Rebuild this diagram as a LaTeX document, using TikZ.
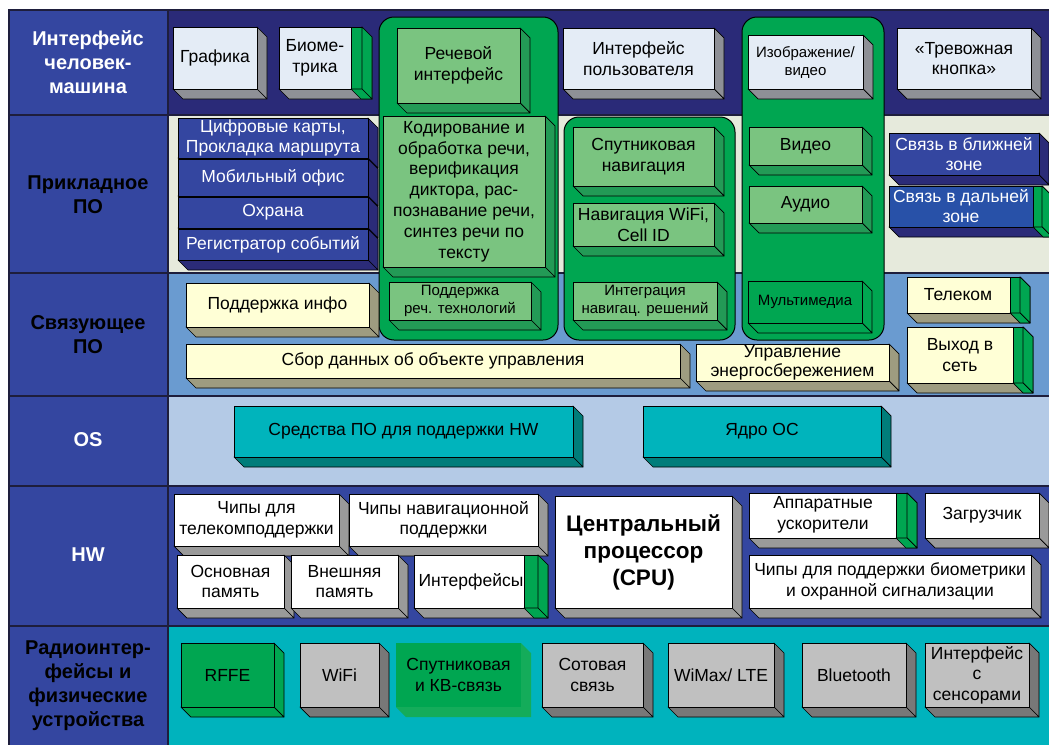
\documentclass[tikz,border=0pt]{standalone}
\usepackage{fontspec}
\setmainfont{Liberation Sans}
\definecolor{colblue}{HTML}{3446A0}
\definecolor{rowA}{HTML}{2A2A78}
\definecolor{rowB}{HTML}{E6EADC}
\definecolor{rowC}{HTML}{6A9BD0}
\definecolor{rowD}{HTML}{B4CAE6}
\definecolor{rowE}{HTML}{3446A0}
\definecolor{rowF}{HTML}{00B3BD}
\definecolor{grn}{HTML}{00A651}
\definecolor{grnl}{HTML}{14AC5A}
\definecolor{lgrn}{HTML}{7AC480}
\definecolor{dgrn}{HTML}{239A56}
\definecolor{pale}{HTML}{E4ECF6}
\definecolor{paleside}{HTML}{8E9096}
\definecolor{navyf}{HTML}{3446A0}
\definecolor{navys}{HTML}{2B2B78}
\definecolor{navyb}{HTML}{2851A8}
\definecolor{cream}{HTML}{FFFFD6}
\definecolor{creams}{HTML}{9E9C80}
\definecolor{tealf}{HTML}{00B4BC}
\definecolor{teals}{HTML}{007D7A}
\definecolor{hwside}{HTML}{9A9A9A}
\definecolor{rgray}{HTML}{C0C0C0}
\definecolor{rgrays}{HTML}{787878}
\definecolor{edge}{HTML}{1E1E3C}
\def\dpth{10}
% #1 node options, #2 name, #3 x1, #4 y1, #5 x2, #6 y2, #7 front, #8 side, #9 text
\newcommand\mycube[9][]{%
 \path[face,fill=#8] (#5,#4) -- (#5+\dpth,#4+\dpth) -- (#5+\dpth,#6+\dpth) -- (#5,#6) -- cycle;
 \path[face,fill=#8] (#3,#6) -- (#5,#6) -- (#5+\dpth,#6+\dpth) -- (#3+\dpth,#6+\dpth) -- cycle;
 \node[face,fill=#7,txt,minimum width=#5-#3,minimum height=#6-#4,#1] (#2) at ({(#3+#5)/2},{(#4+#6)/2}) {#9};}
% #1 x2, #2 y1, #3 y2, #4 stripe width
\newcommand\mystripe[4]{%
 \path[face,fill=grn] (#1-#4,#2) rectangle (#1,#3);
 \path[face,fill=grn] (#1,#2) -- (#1+\dpth,#2+\dpth) -- (#1+\dpth,#3+\dpth) -- (#1,#3) -- cycle;
 \path[face,fill=grn] (#1-#4,#3) -- (#1,#3) -- (#1+\dpth,#3+\dpth) -- (#1-#4+\dpth,#3+\dpth) -- cycle;}
\begin{document}
\begin{tikzpicture}[x=1pt,y=-1pt,
  face/.style={draw=black,line width=0.7pt,line join=round,inner sep=0pt,outer sep=0pt},
  txt/.style={align=center,text=black,font=\fontsize{17.5}{20.5}\selectfont},
  small/.style={font=\fontsize{15}{18}\selectfont},
  lbl/.style={align=center,font=\bfseries\fontsize{20}{24}\selectfont},
  sep/.style={draw=edge,line width=1.2pt},
  cont/.style={draw=black,fill=grn,line width=1pt,rounded corners=15}]
\useasboundingbox (0,0) rectangle (1049,744);
\fill[white] (0,0) rectangle (1049,744);
% rows
\path[sep,fill=rowA] (168,10) rectangle (1053,115);
\path[sep,fill=rowB] (168,115) rectangle (1053,273);
\path[sep,fill=rowC] (168,273) rectangle (1053,396);
\path[sep,fill=rowD] (168,396) rectangle (1053,486);
\path[sep,fill=rowE] (168,486) rectangle (1053,626);
\path[sep,fill=rowF] (168,626) rectangle (1053,750);
% left column
\path[sep,fill=colblue] (9,10) rectangle (168,115);
\path[sep,fill=colblue] (9,115) rectangle (168,273);
\path[sep,fill=colblue] (9,273) rectangle (168,396);
\path[sep,fill=colblue] (9,396) rectangle (168,486);
\path[sep,fill=colblue] (9,486) rectangle (168,626);
\path[sep,fill=colblue] (9,626) rectangle (168,750);
\node[lbl,text=white] (L1) at (88,62) {Интерфейс\\человек-\\машина};
\node[lbl,text=black] (L2) at (88,195) {Прикладное\\ПО};
\node[lbl,text=black] (L3) at (88,335) {Связующее\\ПО};
\node[lbl,text=white] (L4) at (88,440) {OS};
\node[lbl,text=white] (L5) at (88,555) {HW};
\node[lbl,text=black] (L6) at (88,686) {Радиоинтер-\\фейсы и\\физические\\устройства};
% green containers
\path[cont] (379,17) rectangle (558,340);
\path[cont] (564,117) rectangle (735,340);
\path[cont] (742,17) rectangle (884,340);
% row 1
\mycube{graf}{173}{27}{257}{89}{pale}{paleside}{Графика}
\mycube{bio}{279}{27}{362}{89}{pale}{paleside}{}
\mystripe{362}{27}{89}{11}
\node[txt] (biot) at (315,58) {Биоме-\\трика};
\mycube{rech}{397}{28}{520}{103}{lgrn}{dgrn}{Речевой\\интерфейс}
\mycube{ui}{563}{28}{714}{89}{pale}{paleside}{Интерфейс\\пользователя}
\mycube[small]{img}{748}{35}{863}{89}{pale}{paleside}{Изображение/\\видео}
\mycube{alarm}{897}{28}{1031}{89}{pale}{paleside}{«Тревожная\\кнопка»}
% row 2
\mycube[text=white]{maps}{178}{118}{368}{158}{navyf}{navys}{Цифровые карты,\\Прокладка маршрута}
\mycube[text=white]{office}{178}{159}{368}{196}{navyf}{navys}{Мобильный офис}
\mycube[text=white]{guard}{178}{197}{368}{228}{navyf}{navys}{Охрана}
\mycube[text=white]{log}{178}{229}{368}{260}{navyf}{navys}{Регистратор событий}
\mycube[font=\fontsize{17.5}{20.8}\selectfont]{code}{383}{116}{545}{267}{lgrn}{dgrn}{Кодирование и\\обработка речи,\\верификация\\диктора, рас-\\познавание речи,\\синтез речи по\\тексту}
\mycube{sat}{573}{127}{714}{186}{lgrn}{dgrn}{Спутниковая\\навигация}
\mycube{wcell}{573}{203}{714}{246}{lgrn}{dgrn}{Навигация WiFi,\\Cell ID}
\mycube{video}{749}{127}{862}{165}{lgrn}{dgrn}{Видео}
\mycube{audio}{749}{186}{862}{223}{lgrn}{dgrn}{Аудио}
\mycube[text=white]{near}{889}{133}{1039}{175}{navyf}{navys}{Связь в ближней\\зоне}
\mycube{far}{889}{186}{1042}{227}{navyb}{navys}{}
\mystripe{1042}{186}{227}{9}
\node[txt,text=white] (fart) at (961,206) {Связь в дальней\\зоне};
% row 3
\mycube{info}{186}{283}{369}{327}{cream}{creams}{Поддержка инфо}
\mycube[small]{speech}{389}{282}{531}{320}{lgrn}{dgrn}{Поддержка\\реч. технологий}
\mycube[small]{navint}{573}{282}{717}{320}{lgrn}{dgrn}{Интеграция\\навигац. решений}
\mycube[small]{mm}{748}{281}{862}{323}{grn}{grn}{Мультимедиа}
\mycube{telecom}{907}{277}{1020}{313}{cream}{creams}{}
\mystripe{1020}{277}{313}{10}
\node[txt] (telt) at (958,295) {Телеком};
\mycube{net}{907}{327}{1023}{383}{cream}{creams}{}
\mystripe{1023}{327}{383}{10}
\node[txt] (nett) at (960,355) {Выход в\\сеть};
\mycube{gather}{186}{344}{680}{378}{cream}{creams}{Сбор данных об объекте управления}
\mycube[font=\fontsize{17.5}{19}\selectfont]{energy}{696}{344}{889}{381}{cream}{creams}{Управление\\энергосбережением}
% row 4
\mycube{swhw}{234}{406}{573}{457}{tealf}{teals}{Средства ПО для поддержки HW}
\mycube{kernel}{643}{406}{881}{457}{tealf}{teals}{Ядро ОС}
% row 5
\mycube{tel}{174}{494}{339}{546}{white}{hwside}{Чипы для\\телекомподдержки}
\mycube{navchip}{349}{494}{538}{546}{white}{hwside}{Чипы навигационной\\поддержки}
\mycube{mem}{177}{555}{284}{608}{white}{hwside}{Основная\\память}
\mycube{extmem}{291}{555}{398}{608}{white}{hwside}{Внешняя\\память}
\mycube{ifc}{414}{555}{538}{608}{white}{hwside}{}
\mystripe{538}{555}{608}{14}
\node[txt] (ifct) at (471,582) {Интерфейсы};
\mycube[font=\bfseries\fontsize{22.5}{27}\selectfont]{cpu}{555}{496}{732}{608}{white}{hwside}{Центральный\\процессор\\(CPU)}
\mycube{accel}{749}{493}{907}{538}{white}{hwside}{}
\mystripe{907}{493}{538}{11}
\node[txt] (accelt) at (823,515) {Аппаратные\\ускорители};
\mycube{boot}{925}{493}{1039}{538}{white}{hwside}{Загрузчик}
\mycube{biochip}{749}{555}{1031}{608}{white}{hwside}{Чипы для поддержки биометрики\\и охранной сигнализации}
% row 6
\mycube{rffe}{181}{643}{274}{707}{grn}{grn}{RFFE}
\mycube{wifi}{300}{643}{379}{707}{rgray}{rgrays}{WiFi}
\fill[grnl] (521,643) -- (531,653) -- (531,717) -- (406,717) -- (396,707) -- (521,707) -- cycle;
\node[txt,fill=grn,inner sep=0pt,minimum width=125,minimum height=64] (satkv) at (458.5,675) {Спутниковая\\и КВ-связь};
\mycube{cell}{542}{643}{643}{707}{rgray}{rgrays}{Сотовая\\связь}
\mycube{wimax}{668}{643}{774}{707}{rgray}{rgrays}{WiMax/ LTE}
\mycube{bt}{802}{643}{906}{707}{rgray}{rgrays}{Bluetooth}
\mycube{sens}{925}{643}{1029}{707}{rgray}{rgrays}{Интерфейс\\с\\сенсорами}
\end{tikzpicture}
\end{document}
